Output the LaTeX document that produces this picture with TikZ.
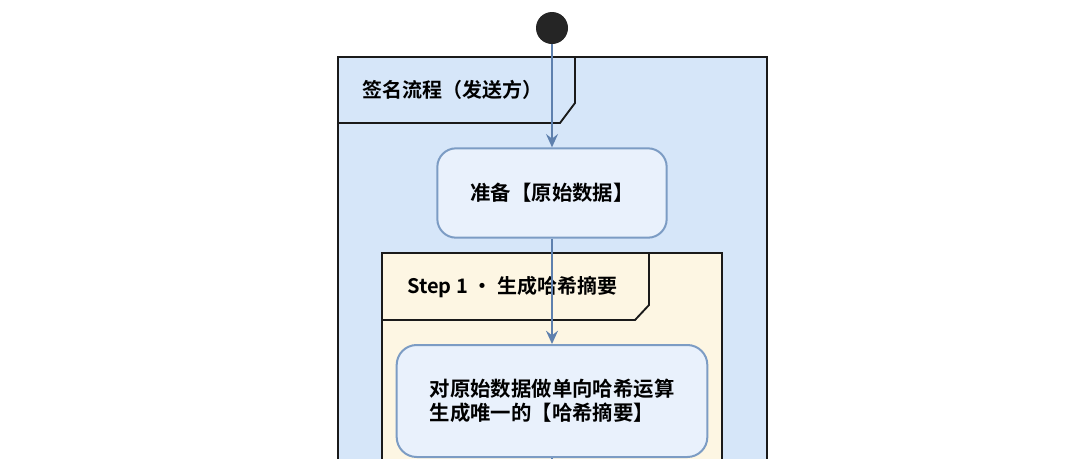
\documentclass[tikz,border=0pt]{standalone}
\usepackage{fontspec}
\setmainfont{Noto Sans CJK SC}[BoldFont={* Bold}]
\usetikzlibrary{arrows.meta}
\definecolor{outerfill}{HTML}{D6E6F9}
\definecolor{innerfill}{HTML}{FDF6E3}
\definecolor{nodefill}{HTML}{E9F1FC}
\definecolor{nodeline}{HTML}{7C9CC4}
\definecolor{arrowc}{HTML}{5E80AE}
\definecolor{framec}{HTML}{1A1A1A}
\tikzset{
  frame/.style={draw=framec, line width=1.4pt},
  actbox/.style={draw=nodeline, fill=nodefill, line width=1.5pt, rounded corners=14pt,
    font=\bfseries\fontsize{15.3}{18}\selectfont, inner sep=0pt},
  flow/.style={draw=arrowc, line width=1.4pt, -{Stealth[length=10pt,width=9pt,inset=3.5pt]}},
  ttl/.style={anchor=west, font=\bfseries\fontsize{15}{18}\selectfont, inner sep=0pt}
}
\begin{document}
\begin{tikzpicture}[x=0.75pt,y=-0.75pt]
\useasboundingbox (0,0) rectangle (1080,458);
\clip (0,0) rectangle (1080,458);
\fill[white] (0,0) rectangle (1080,458);
% outer frame
\filldraw[frame, fill=outerfill] (338,57) -- (767,57) -- (767,480) -- (338,480) -- cycle;
\draw[frame] (338,57) -- (575,57) -- (575,103) -- (560,123) -- (338,123);
\node[ttl] (t1) at (362,90) {签名流程（发送方）};
% start
\node[circle, fill=framec!95, minimum size=24pt, inner sep=0pt] (start) at (552,28) {};
% node 1
\node[actbox, minimum width=172pt, minimum height=67pt] (prep) at (552,193) {准备【原始数据】};
% inner frame
\filldraw[frame, fill=innerfill] (382,253) -- (722,253) -- (722,480) -- (382,480) -- cycle;
\draw[frame] (382,253) -- (649,253) -- (649,305) -- (635,320) -- (382,320);
\node[ttl] (t2) at (407,287) {Step 1 · 生成哈希摘要};
% node 2
\node[actbox, minimum width=233pt, minimum height=84pt, align=left, rounded corners=15pt]
  (hash) at (552,401) {对原始数据做单向哈希运算\\生成唯一的【哈希摘要】};
\coordinate (out) at (552,480);
% connectors
\draw[flow] (start) -- (prep);
\draw[flow] (prep) -- (hash);
\draw[draw=arrowc, line width=1.4pt] (hash) -- (out);
\end{tikzpicture}
\end{document}
